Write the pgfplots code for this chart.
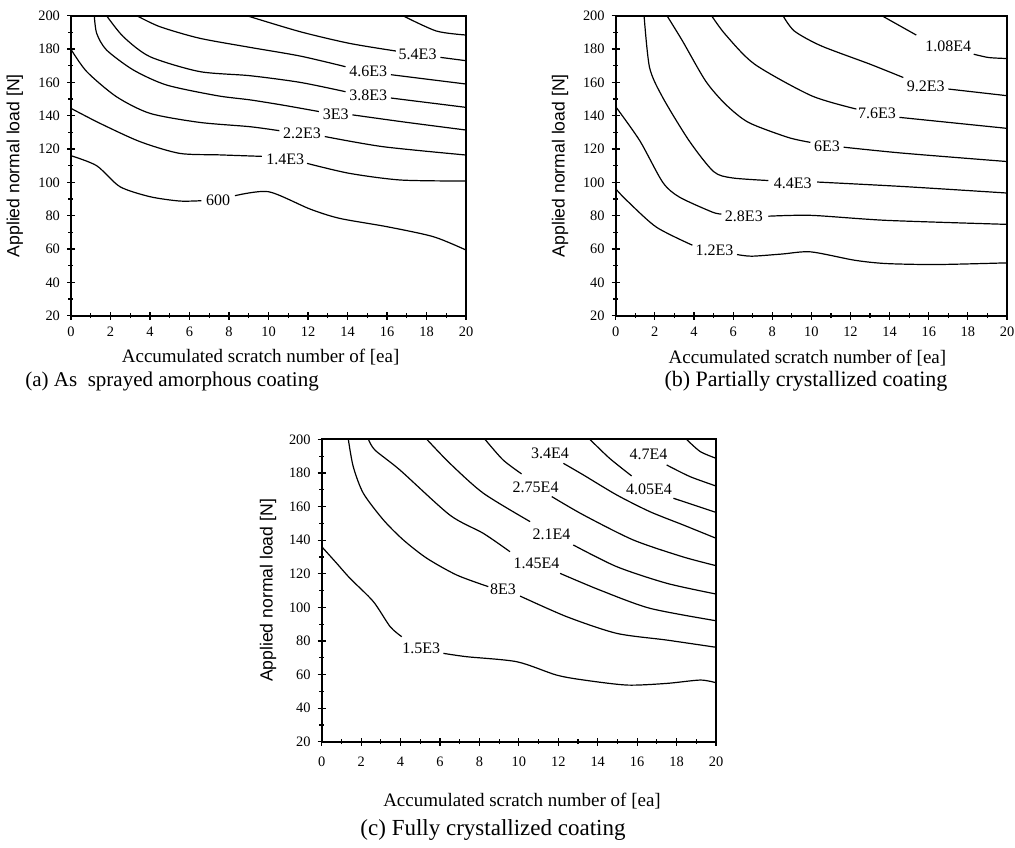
\documentclass[border=0pt]{standalone}
\usepackage{pgfplots}
\pgfplotsset{compat=1.18}
\usepackage{fontspec}
\setmainfont{Liberation Serif}
\newfontfamily\sansf{Liberation Sans}
\tikzset{lab/.style={font=\fontsize{8}{9}\selectfont, inner sep=0.5pt}}
\pgfplotsset{
  cplot/.style={
    scale only axis, height=150pt,
    xmin=0, xmax=20, ymin=20, ymax=200,
    xtick={0,2,...,20}, ytick={20,40,...,200},
    minor x tick num=1, minor y tick num=1,
    tick align=center, xtick pos=bottom, ytick pos=left,
    major tick length=4pt, minor tick length=2.5pt,
    every tick/.style={black, line width=0.6pt},
    axis line style={line width=0.9pt},
    /pgf/number format/assume math mode=true,
    ticklabel style={font=\fontsize{7.2}{8}\selectfont},
    xlabel={Accumulated scratch number of [ea]},
    ylabel={Applied normal load [N]},
    xlabel style={font=\fontsize{9.5}{10}\selectfont, anchor=center},
    ylabel style={font=\sansf\fontsize{8.8}{10}\selectfont, anchor=center},
    cycle list={{black, mark=none}},
    every axis plot/.append style={line width=0.6pt, smooth, tension=0.45},
  },
}
\begin{document}
\begin{tikzpicture}
\useasboundingbox (0,0) rectangle (507.5pt,423.5pt);
% ---------------- (a)
\begin{axis}[cplot, at={(35.5pt,265.65pt)}, anchor=south west, width=197.5pt,
  xlabel style={at={(axis description cs:0.48,-0.138)}},
  ylabel style={at={(axis description cs:-0.142,0.5)}}]
\addplot coordinates {(0,116) (1.3,110) (2.48,97.4) (4,91.4) (5.5,88.8) (6.6,89)};
\addplot coordinates {(8.3,92) (10,94.4) (12.1,84) (13.6,78.4) (16,73.4) (18.35,67.4) (20,59.4)};
\node[lab] at (axis cs:7.45,89.5) {600};
\addplot coordinates {(0,144.4) (1.47,135.4) (3.5,124.4) (5.5,117.4) (7.5,116.5) (9.66,115.6)};
\addplot coordinates {(11.95,111.4) (14.1,105.4) (16.7,101.4) (20,100.8)};
\node[lab] at (axis cs:10.85,114) {1.4E3};
\addplot coordinates {(0,179.8) (0.8,166.4) (2.3,151.4) (4,141.4) (6.5,136) (9.06,133.4) (10.55,131)};
\addplot coordinates {(12.85,127.5) (15.8,121.4) (20,116.4)};
\node[lab] at (axis cs:11.7,129.5) {2.2E3};
\addplot coordinates {(1.18,200) (1.3,189.4) (1.8,179.4) (3.16,167.4) (4.84,158.4) (7.4,152) (9.06,149.5) (10.7,146.4) (12.55,142.5)};
\addplot coordinates {(14.25,140.5) (17,136) (20,131.4)};
\node[lab] at (axis cs:13.4,141) {3E3};
\addplot coordinates {(1.8,200) (2.65,187.4) (4,175.4) (6.5,166.5) (9.06,164) (11.6,160) (13.9,154.4)};
\addplot coordinates {(16.2,150.6) (20,145)};
\node[lab] at (axis cs:15.05,152.5) {3.8E3};
\addplot coordinates {(3.33,200) (4.5,193.4) (6.5,186.5) (9.06,181) (11.6,175.8) (13.9,169.4)};
\addplot coordinates {(16.2,164.6) (20,159)};
\node[lab] at (axis cs:15.05,166.8) {4.6E3};
\addplot coordinates {(8.9,200) (11.6,190.4) (14.1,183.4) (16.45,178.8)};
\addplot coordinates {(18.7,175) (20,173)};
\node[lab] at (axis cs:17.55,176.6) {5.4E3};
\addplot coordinates {(16.8,200) (18.5,190.8) (20,188.4)};
\end{axis}
% ---------------- (b)
\begin{axis}[cplot, at={(307.85pt,265.65pt)}, anchor=south west, width=195.65pt,
  xlabel style={at={(axis description cs:0.49,-0.14)}},
  ylabel style={at={(axis description cs:-0.1425,0.5)}}]
\addplot coordinates {(0,96.1) (0.56,89.2) (2.07,73.2) (3.92,62.3)};
\addplot coordinates {(6.2,56.7) (6.95,55.7) (8.5,57) (9.97,58.3) (12.2,53.3) (13.8,51.3) (16.4,50.7) (20,51.7)};
\node[lab] at (axis cs:5.05,59.5) {1.2E3};
\addplot coordinates {(0,145.4) (1.23,125) (2.4,100.1) (3.25,91.2) (4.93,82.2) (5.4,81)};
\addplot coordinates {(7.8,79.7) (10,80.2) (13.84,77.2) (20,74.8)};
\node[lab] at (axis cs:6.55,79.6) {2.8E3};
\addplot coordinates {(1.45,200) (1.73,168.9) (2.4,151) (3.75,125) (5.0,106.5) (5.94,102.7) (7.8,101.1)};
\addplot coordinates {(10.3,100.2) (14.7,97.5) (20,93.6)};
\node[lab] at (axis cs:9.05,99.7) {4.4E3};
\addplot coordinates {(2.62,200) (3.41,184.9) (4.59,160.9) (5.6,147) (6.78,136) (8.8,127) (9.95,124)};
\addplot coordinates {(11.65,121.1) (14.7,117.5) (20,112.5)};
\node[lab] at (axis cs:10.8,121.8) {6E3};
\addplot coordinates {(4.9,200) (5.6,188.8) (7.1,170.9) (10,152) (12.3,144)};
\addplot coordinates {(14.5,139) (20,132.4)};
\node[lab] at (axis cs:13.35,141.2) {7.6E3};
\addplot coordinates {(8.55,200) (9.13,190.8) (10.5,181.9) (13,170.9) (14.7,162.9)};
\addplot coordinates {(17.0,156) (20,152)};
\node[lab] at (axis cs:15.85,157.5) {9.2E3};
\addplot coordinates {(13.6,200) (15.36,188.4)};
\addplot coordinates {(18.3,176.9) (19.06,174.9) (20,174.3)};
\node[lab] at (axis cs:17.0,181.5) {1.08E4};
\end{axis}
% ---------------- (c)
\begin{axis}[cplot, at={(160.85pt,52.65pt)}, anchor=south west, width=197.15pt, height=151.2pt,
  xticklabel style={yshift=-2pt},
  xlabel style={at={(axis description cs:0.508,-0.196)}},
  ylabel style={at={(axis description cs:-0.136,0.5)}}]
\addplot coordinates {(0,136.1) (0.76,126.2) (1.44,117.2) (2.62,103.4) (3.47,88.5) (4.06,82.5)};
\addplot coordinates {(6.17,72.6) (7.35,70.6) (9.9,67.6) (11.9,59.7) (13.3,56.7) (15.5,53.7) (17.5,54.7) (19.2,56.7) (20,55.1)};
\node[lab] at (axis cs:5.05,75.6) {1.5E3};
\addplot coordinates {(1.35,200) (1.6,183.7) (2.11,167.9) (3.13,152) (4.14,140.1) (5.33,129.2) (6.85,119.2) (8.45,112.3)};
\addplot coordinates {(10.06,106.7) (12.43,94.4) (14.96,84.5) (17.5,80.5) (20,76.2)};
\node[lab] at (axis cs:9.2,110.7) {8E3};
\addplot coordinates {(2.37,200) (2.7,193.6) (3.97,181.7) (6.5,154.9) (8.2,144) (9.55,133.1)};
\addplot coordinates {(12.09,120.2) (14.1,110.3) (16.65,99.4) (20,92)};
\node[lab] at (axis cs:10.9,126.2) {1.45E4};
\addplot coordinates {(5.33,200) (6.5,185.7) (8.2,167.9) (10.57,151)};
\addplot coordinates {(12.76,137.1) (14.96,124.2) (17.5,114.3) (20,107.9)};
\node[lab] at (axis cs:11.65,143.4) {2.1E4};
\addplot coordinates {(8.28,200) (9.2,187.7) (10.14,179.4)};
\addplot coordinates {(11.67,165.9) (13.27,155) (15.8,140.1) (18.3,130.1) (20,124.8)};
\node[lab] at (axis cs:10.85,171.4) {2.75E4};
\addplot coordinates {(12.26,185.7) (13.27,178.8) (14.96,166.9) (16.65,156.9) (18.34,149) (20,141.1)};
\node[lab] at (axis cs:11.58,191.7) {3.4E4};
\addplot coordinates {(13.6,200) (14.6,188.7) (15.72,178.2)};
\addplot coordinates {(17.84,164.9) (20,156.5)};
\node[lab] at (axis cs:16.6,170.2) {4.05E4};
\addplot coordinates {(17.5,184.7) (18.68,177.8) (20,172.2)};
\node[lab] at (axis cs:16.57,191.3) {4.7E4};
\addplot coordinates {(18.5,200) (19.2,192.7) (20,188.7)};
\end{axis}
% captions
\node[anchor=west, font=\fontsize{10.5}{12}\selectfont, inner sep=0pt] at (12.5pt,233pt) {(a) As\ \ sprayed amorphous coating};
\node[anchor=center, font=\fontsize{11}{12}\selectfont, inner sep=0pt] at (403pt,233pt) {(b) Partially crystallized coating};
\node[anchor=center, font=\fontsize{11.5}{12}\selectfont, inner sep=0pt] at (246.5pt,8.5pt) {(c) Fully crystallized coating};
\end{tikzpicture}
\end{document}
